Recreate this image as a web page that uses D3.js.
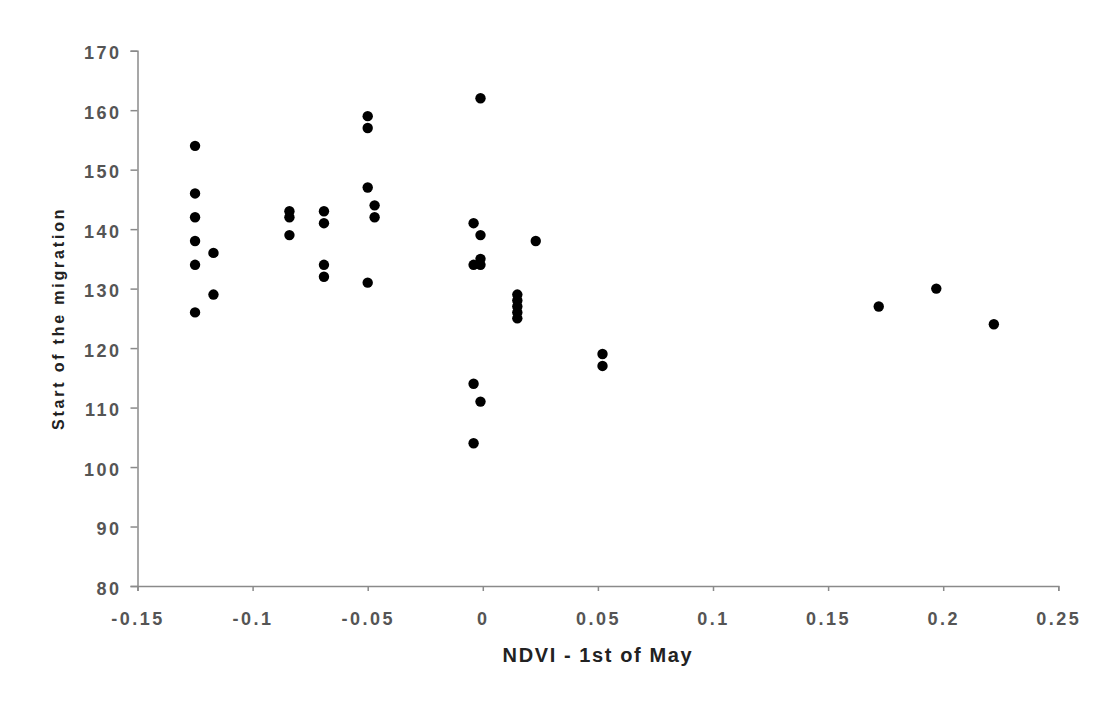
<!DOCTYPE html>
<html>
<head>
<meta charset="utf-8">
<script src="https://cdn.jsdelivr.net/npm/d3@7"></script>
<style>
  body { margin: 0; background: #fff; }
  .tick text { font-family: "Liberation Sans", Arial, sans-serif; font-weight: bold; font-size: 18px; letter-spacing: 2.5px; fill: #555; }
  .axis-label { font-family: "Liberation Sans", Arial, sans-serif; font-weight: bold; fill: #222; }
</style>
</head>
<body>
<div id="chart"></div>
<script>
// values
var ndvi = [
  -0.125, -0.125, -0.125, -0.125, -0.125, -0.125, -0.117, -0.117,
  -0.084, -0.084, -0.084,
  -0.069, -0.069, -0.069, -0.069,
  -0.05, -0.05, -0.05, -0.05, -0.047, -0.047,
  -0.001, -0.004, -0.001, -0.001, -0.004, -0.001, -0.004, -0.001, -0.004,
  0.023,
  0.015, 0.015, 0.015, 0.015, 0.015,
  0.052, 0.052,
  0.172, 0.197, 0.222
];
var start = [
  154, 146, 142, 138, 134, 126, 136, 129,
  143, 142, 139,
  143, 141, 134, 132,
  159, 157, 147, 131, 144, 142,
  162, 141, 139, 135, 134, 134, 114, 111, 104,
  138,
  129, 128, 127, 126, 125,
  119, 117,
  127, 130, 124
];
var xTicks = [-0.15, -0.1, -0.05, 0, 0.05, 0.1, 0.15, 0.2, 0.25];
var yTicks = [80, 90, 100, 110, 120, 130, 140, 150, 160, 170];

var svgWidth = 1105;
var svgHeight = 704;
var margin = { top: 50.7, right: 46.7, bottom: 118, left: 137.5 };
var width = svgWidth - margin.left - margin.right;
var height = svgHeight - margin.top - margin.bottom;

var svg = d3.select("#chart")
  .append("svg")
  .attr("width", svgWidth)
  .attr("height", svgHeight);

var chartGroup = svg.append("g")
  .attr("transform", `translate(${margin.left}, ${margin.top})`);

var xScale = d3.scaleLinear().domain([-0.15, 0.25]).range([0, width]);
var yScale = d3.scaleLinear().domain([80, 170]).range([height, 0]);

var bottomAxis = d3.axisBottom(xScale)
  .tickValues(xTicks)
  .tickSize(5)
  .tickPadding(21)
  .tickFormat(d => d === 0 ? "0" : String(+d.toFixed(2)));

var leftAxis = d3.axisLeft(yScale)
  .tickValues(yTicks)
  .tickSize(7)
  .tickPadding(9);

var xAxis = chartGroup.append("g")
  .attr("transform", `translate(0, ${height})`)
  .call(bottomAxis);

var yAxis = chartGroup.append("g")
  .call(leftAxis);

yAxis.selectAll(".tick text").attr("dy", "0.45em");

[xAxis, yAxis].forEach(function(ax) {
  ax.select(".domain").attr("stroke", "#8a8a8a").attr("stroke-width", 1.5);
  ax.selectAll(".tick line").attr("stroke", "#8a8a8a").attr("stroke-width", 1.5);
});

// points
chartGroup.selectAll("circle")
  .data(ndvi)
  .enter()
  .append("circle")
  .attr("cx", d => xScale(d))
  .attr("cy", (d, i) => yScale(start[i]))
  .attr("r", 5.2)
  .attr("fill", "#000");

// axis titles
chartGroup.append("text")
  .attr("class", "axis-label")
  .attr("x", width / 2)
  .attr("y", height + 76.5)
  .attr("text-anchor", "middle")
  .style("font-size", "20px")
  .style("letter-spacing", "1.6px")
  .text("NDVI - 1st of May");

chartGroup.append("text")
  .attr("class", "axis-label")
  .attr("transform", `translate(-73.5, ${height / 2}) rotate(-90)`)
  .attr("text-anchor", "middle")
  .style("font-size", "16px")
  .style("letter-spacing", "2.8px")
  .text("Start of the migration");
</script>
</body>
</html>
